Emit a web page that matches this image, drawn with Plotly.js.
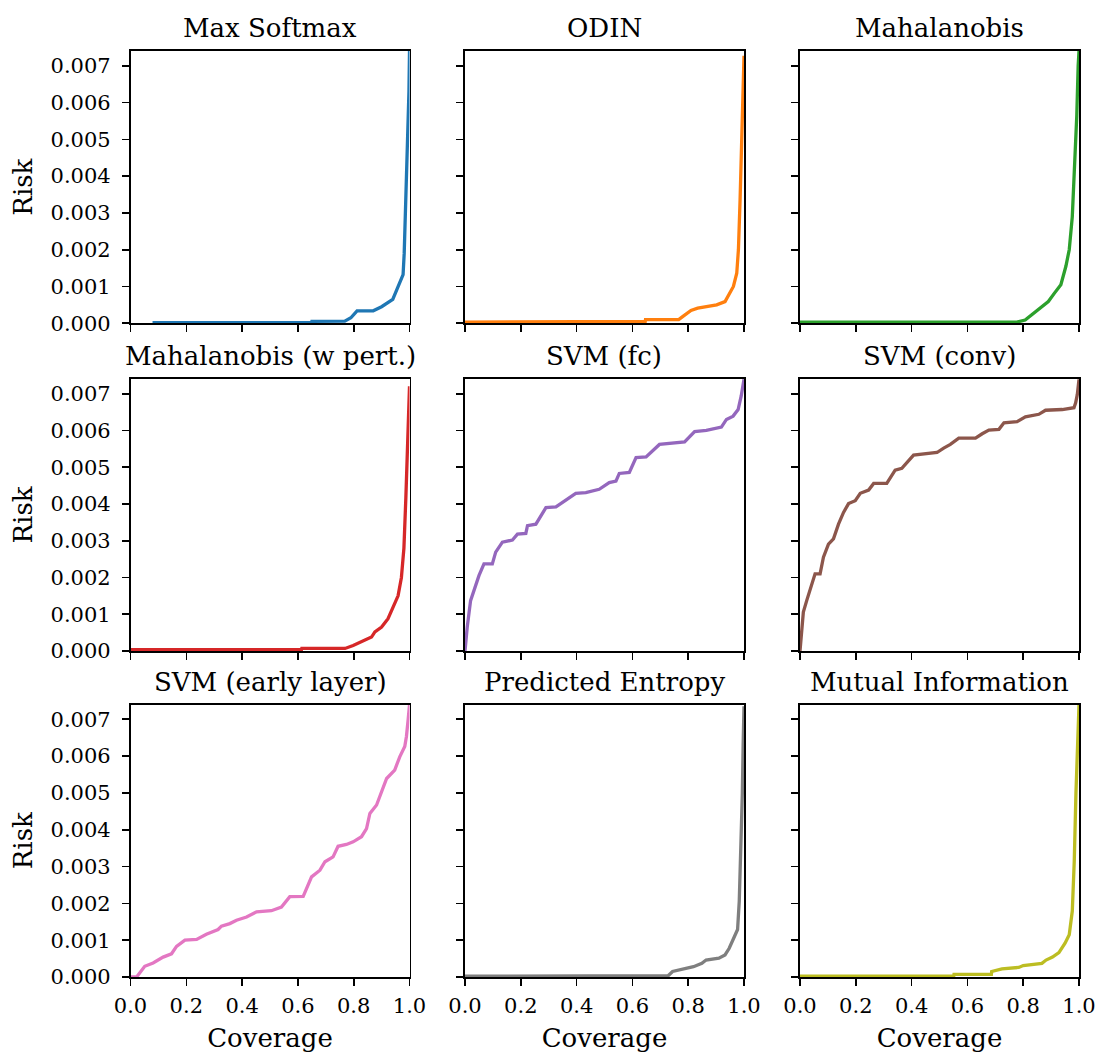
<!DOCTYPE html>
<html>
<head>
<meta charset="utf-8">
<script src="https://cdn.plot.ly/plotly-3.0.1.min.js"></script>
<style>html,body{margin:0;padding:0;background:#fff;}#chart{width:1099px;height:1055px;}</style>
</head>
<body>
<div id="chart"></div>
<script>
// ---- data ----
const titles = ["Max Softmax", "ODIN", "Mahalanobis", "Mahalanobis (w pert.)", "SVM (fc)", "SVM (conv)", "SVM (early layer)", "Predicted Entropy", "Mutual Information"];
const colors = ["#1f77b4", "#ff7f0e", "#2ca02c", "#d62728", "#9467bd", "#8c564b", "#e377c2", "#7f7f7f", "#bcbd22"];

const covMaxSoftmax  = [0.079, 0.649, 0.650, 0.768, 0.790, 0.812, 0.870, 0.900, 0.940, 0.959, 0.970, 0.977, 0.981, 0.985, 0.989, 0.992, 0.995, 0.998, 1.0];
const riskMaxSoftmax = [0.00002, 0.00002, 0.00005, 0.00006, 0.00015, 0.00034, 0.00034, 0.00045, 0.00065, 0.0010, 0.00115, 0.00132, 0.0019, 0.0029, 0.0038, 0.0045, 0.0052, 0.0063, 0.0074];

const covODIN  = [0.0, 0.367, 0.368, 0.646, 0.647, 0.766, 0.780, 0.810, 0.834, 0.872, 0.902, 0.932, 0.947, 0.962, 0.974, 0.980, 0.986, 0.992, 0.996, 1.0];
const riskODIN = [0.00003, 0.00003, 0.00005, 0.00005, 0.0001, 0.0001, 0.00018, 0.00035, 0.00041, 0.00045, 0.0005, 0.00059, 0.00082, 0.0010, 0.00136, 0.0020, 0.00336, 0.0052, 0.0063, 0.00727];

const covMaha  = [0.0, 0.777, 0.807, 0.837, 0.867, 0.890, 0.912, 0.935, 0.953, 0.965, 0.976, 0.985, 0.992, 0.997, 1.0];
const riskMaha = [0.00003, 0.00003, 0.00009, 0.00027, 0.00047, 0.00059, 0.00082, 0.00105, 0.00155, 0.0020, 0.0029, 0.00427, 0.00564, 0.0070, 0.0074];

const covMahaPert  = [0.0, 0.613, 0.614, 0.769, 0.798, 0.822, 0.846, 0.864, 0.876, 0.900, 0.923, 0.941, 0.959, 0.971, 0.980, 0.987, 0.993, 0.996, 1.0];
const riskMahaPert = [0.00004, 0.00004, 0.00007, 0.00007, 0.00015, 0.00023, 0.00033, 0.00038, 0.00052, 0.00065, 0.00088, 0.0012, 0.0015, 0.0020, 0.0028, 0.00418, 0.00553, 0.0064, 0.0072];

const covSvmFc  = [0.0, 0.008, 0.020, 0.032, 0.050, 0.068, 0.098, 0.110, 0.134, 0.170, 0.188, 0.218, 0.224, 0.254, 0.290, 0.326, 0.361, 0.397, 0.433, 0.481, 0.517, 0.541, 0.553, 0.589, 0.613, 0.649, 0.697, 0.745, 0.787, 0.823, 0.865, 0.919, 0.937, 0.961, 0.979, 0.990, 1.0];
const riskSvmFc = [0.0, 0.00065, 0.00137, 0.00165, 0.00205, 0.00237, 0.00237, 0.00269, 0.00296, 0.00302, 0.00318, 0.0032, 0.00341, 0.00345, 0.0039, 0.00392, 0.00409, 0.00429, 0.00431, 0.0044, 0.00458, 0.00462, 0.00483, 0.00486, 0.00526, 0.00528, 0.00562, 0.00565, 0.00569, 0.00597, 0.0060, 0.00609, 0.0063, 0.00639, 0.00657, 0.00694, 0.00739];

const covSvmConv  = [0.0, 0.012, 0.024, 0.042, 0.054, 0.072, 0.084, 0.102, 0.120, 0.138, 0.156, 0.174, 0.198, 0.216, 0.246, 0.264, 0.311, 0.341, 0.365, 0.407, 0.449, 0.491, 0.515, 0.539, 0.569, 0.629, 0.653, 0.677, 0.713, 0.731, 0.778, 0.808, 0.856, 0.880, 0.940, 0.982, 0.988, 0.994, 1.0];
const riskSvmConv = [0.0, 0.00106, 0.00137, 0.00183, 0.0021, 0.0021, 0.00255, 0.00291, 0.00305, 0.00345, 0.00377, 0.00401, 0.00409, 0.00429, 0.00438, 0.00456, 0.00456, 0.00492, 0.00497, 0.00533, 0.00537, 0.0054, 0.00552, 0.00562, 0.00579, 0.00579, 0.00591, 0.00601, 0.00603, 0.00621, 0.00624, 0.00637, 0.00644, 0.00655, 0.00657, 0.00662, 0.00675, 0.00698, 0.00739];

const covSvmEarly  = [0.0, 0.022, 0.051, 0.081, 0.117, 0.147, 0.165, 0.195, 0.237, 0.272, 0.314, 0.326, 0.356, 0.380, 0.416, 0.452, 0.505, 0.541, 0.571, 0.619, 0.649, 0.679, 0.697, 0.726, 0.744, 0.774, 0.798, 0.828, 0.846, 0.858, 0.882, 0.906, 0.918, 0.947, 0.965, 0.983, 0.989, 0.995, 1.0];
const riskSvmEarly = [0.0, 0.0, 0.00029, 0.00038, 0.00054, 0.00063, 0.00083, 0.0010, 0.00102, 0.00116, 0.00129, 0.00138, 0.00145, 0.00154, 0.00163, 0.00177, 0.0018, 0.0019, 0.00218, 0.00219, 0.00272, 0.0029, 0.00313, 0.00326, 0.00355, 0.0036, 0.00367, 0.00381, 0.00403, 0.00444, 0.00467, 0.00517, 0.00539, 0.00562, 0.00598, 0.00626, 0.00653, 0.00698, 0.00739];

const covEntropy  = [0.0, 0.600, 0.601, 0.729, 0.744, 0.766, 0.796, 0.819, 0.849, 0.864, 0.910, 0.932, 0.947, 0.962, 0.977, 0.983, 0.989, 0.994, 0.997, 1.0];
const riskEntropy = [0.00002, 0.00002, 0.00004, 0.00004, 0.00015, 0.00019, 0.00024, 0.00028, 0.00037, 0.00046, 0.00051, 0.0006, 0.00078, 0.00106, 0.00129, 0.00206, 0.00352, 0.00498, 0.00634, 0.00735];

const covMI  = [0.0, 0.551, 0.552, 0.686, 0.687, 0.724, 0.784, 0.800, 0.867, 0.882, 0.905, 0.928, 0.950, 0.965, 0.976, 0.983, 0.989, 0.995, 1.0];
const riskMI = [0.00002, 0.00002, 0.00007, 0.00007, 0.00015, 0.00022, 0.00026, 0.00031, 0.00037, 0.00046, 0.00054, 0.00066, 0.00092, 0.00115, 0.00179, 0.00315, 0.00498, 0.00634, 0.0074];

const xTickVals = [0, 0.2, 0.4, 0.6, 0.8, 1.0];
const yTickVals = [0, 0.001, 0.002, 0.003, 0.004, 0.005, 0.006, 0.007];

// ---- build ----
const series = [
  [covMaxSoftmax, riskMaxSoftmax], [covODIN, riskODIN], [covMaha, riskMaha],
  [covMahaPert, riskMahaPert], [covSvmFc, riskSvmFc], [covSvmConv, riskSvmConv],
  [covSvmEarly, riskSvmEarly], [covEntropy, riskEntropy], [covMI, riskMI]
];

const W = 1099, H = 1055;
const colPx = [[130.5, 409.5], [465, 744], [800, 1079]];
const rowPx = [[51, 323.3], [379, 651], [704.5, 977]];
const FONT = "'DejaVu Serif', 'Liberation Serif', serif";

const traces = [];
const layout = {
  width: W, height: H,
  margin: {l: 0, r: 0, t: 0, b: 0},
  paper_bgcolor: "#fff", plot_bgcolor: "#fff",
  showlegend: false,
  font: {family: FONT, color: "#000", size: 21},
  annotations: []
};

series.forEach((s, i) => {
  const r = Math.floor(i / 3), c = i % 3;
  const n = i + 1;
  const xa = "x" + (n === 1 ? "" : n), ya = "y" + (n === 1 ? "" : n);
  traces.push({
    x: s[0], y: s[1], xaxis: xa, yaxis: ya, type: "scatter", mode: "lines",
    line: {color: colors[i], width: 3.3}, hoverinfo: "skip"
  });
  const xd = [colPx[c][0] / W, colPx[c][1] / W];
  const yd = [1 - rowPx[r][1] / H, 1 - rowPx[r][0] / H];
  const common = {
    showline: true, mirror: true, linecolor: "#000", linewidth: 1.6,
    ticks: "outside", ticklen: 7, tickwidth: 1.6, tickcolor: "#000",
    showgrid: false, zeroline: false, fixedrange: true,
    tickfont: {family: FONT, size: 21, color: "#000"}
  };
  layout["xaxis" + (n === 1 ? "" : n)] = Object.assign({}, common, {
    domain: xd, anchor: ya, range: [0, 1],
    tickvals: xTickVals, tickformat: ".1f", showticklabels: r === 2,
    ticklabelstandoff: 2,
    title: r === 2 ? {text: "Coverage", font: {family: FONT, size: 26, color: "#000"}, standoff: 12} : {text: ""}
  });
  layout["yaxis" + (n === 1 ? "" : n)] = Object.assign({}, common, {
    domain: yd, anchor: xa, range: [0, 0.0074],
    tickvals: yTickVals, tickformat: ".3f", showticklabels: c === 0,
    ticklabelstandoff: 7,
    title: c === 0 ? {text: "Risk", font: {family: FONT, size: 26, color: "#000"}, standoff: 10} : {text: ""}
  });
  layout.annotations.push({
    text: titles[i], xref: "paper", yref: "paper",
    x: (xd[0] + xd[1]) / 2, y: yd[1], xanchor: "center", yanchor: "bottom",
    yshift: 6, showarrow: false, font: {family: FONT, size: 26, color: "#000"}
  });
});

Plotly.newPlot("chart", traces, layout, {staticPlot: true, displayModeBar: false});
</script>
</body>
</html>
